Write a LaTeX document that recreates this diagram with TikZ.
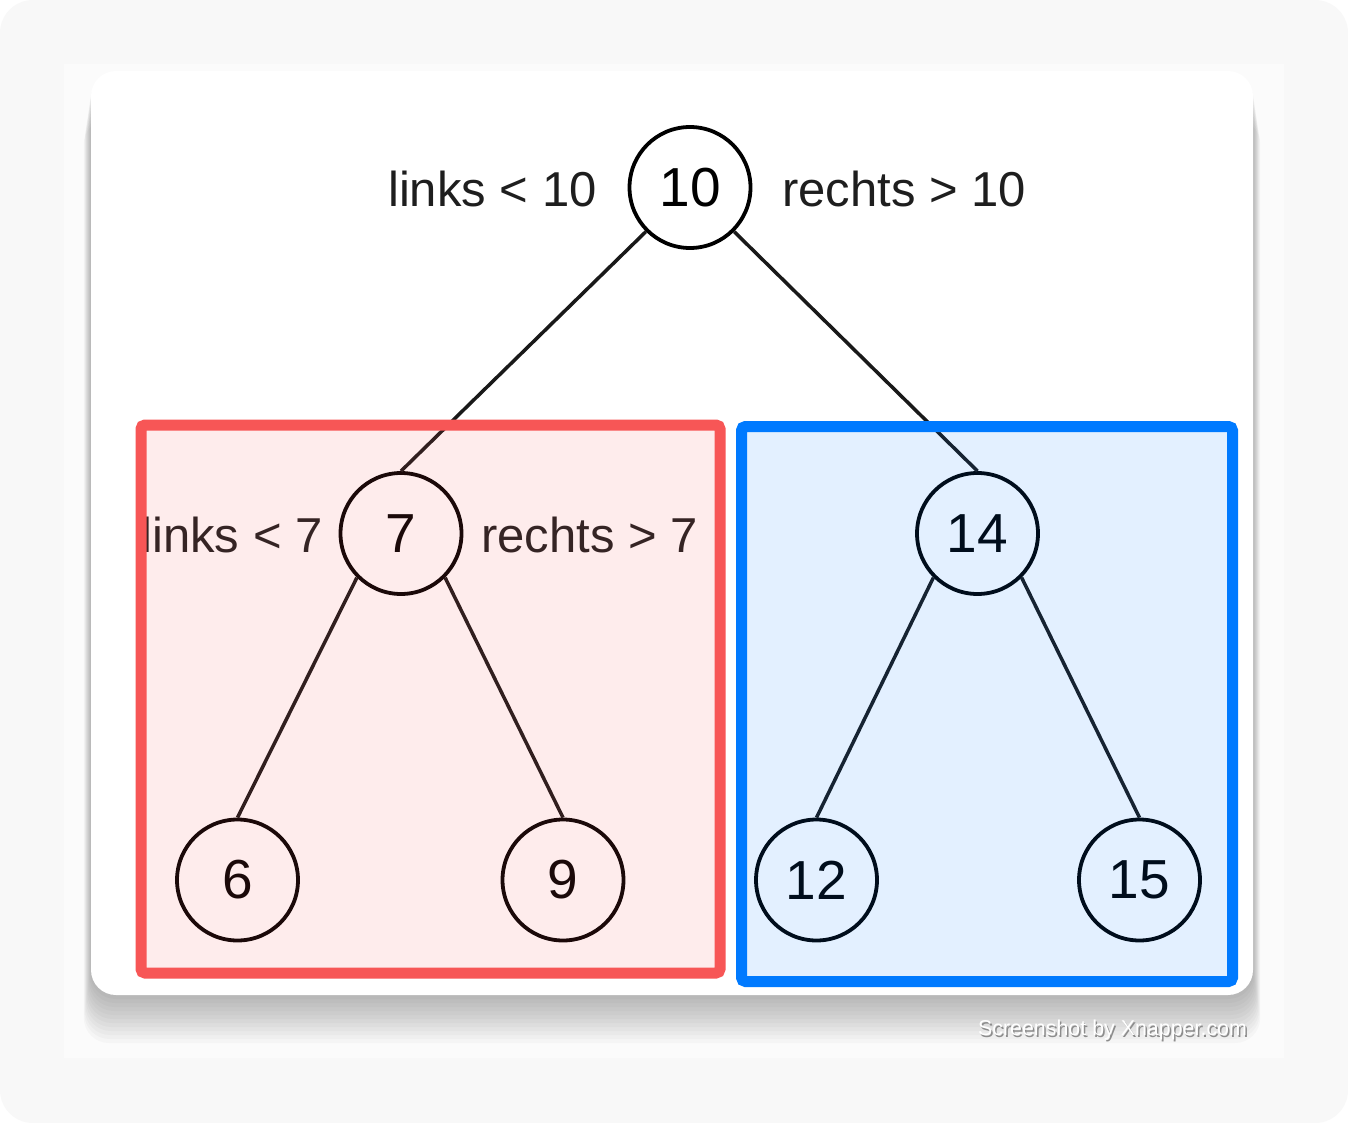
\documentclass[tikz,border=0pt]{standalone}
\usepackage{fontspec}
\setmainfont{Liberation Sans}
\definecolor{boxred}{HTML}{F75656}
\definecolor{boxblue}{HTML}{007AFF}
\definecolor{pagegray}{HTML}{F8F8F8}
\definecolor{framegray}{HTML}{FBFBFB}
\definecolor{inkgray}{HTML}{1E1E1E}

\tikzset{
  vertex/.style={circle, draw=black, line width=1.9pt, minimum size=60.5pt, inner sep=0pt,
    font=\fontsize{27.5}{30}\selectfont},
  rule/.style={font=\fontsize{24.5}{28}\selectfont, text=inkgray, inner sep=0pt},
  edge/.style={line width=1.75pt, draw=black!90},
  subtree/.style={line width=5.5pt, rounded corners=2pt, fill opacity=0.11},
}

\begin{document}
\begin{tikzpicture}[x=0.5pt, y=-0.5pt]
        \useasboundingbox (0,0) rectangle (1348,1123);
        % background and card
        \fill[white] (0,0) rectangle (1348,1123);
        \fill[pagegray, rounded corners=16.5pt] (0,0) rectangle (1348,1123);
        \fill[framegray] (64,64) rectangle (1284,1058);
        \foreach \i in {1,...,12}
            \fill[black, opacity=0.022, rounded corners=12.5pt] (91-0.6*\i,71+4*\i) rectangle (1253+0.6*\i,995+4*\i);
        \fill[white, rounded corners=12.5pt] (91,71) rectangle (1253,995);
        % tree
        \path (690, 187.5) node[vertex](n10) {10} (401, 533.5) node[vertex](n7) {7} (977.5, 533.5) node[vertex](n14) {14}
              (237.5, 880) node[vertex](n6) {6} (563, 880) node[vertex](n9) {9}
              (816.5, 880) node[vertex](n12) {12} (1139.5, 880) node[vertex](n15) {15};
        \draw[edge] (n10.south west) -- (n7.north);
        \draw[edge] (n10.south east) -- (n14.north);
        \draw[edge] (n7.south west) -- (n6.north);
        \draw[edge] (n7.south east) -- (n9.north);
        \draw[edge] (n14.south west) -- (n12.north);
        \draw[edge] (n14.south east) -- (n15.north);
        % rules
        \path (597, 207) node[rule, anchor=base east](l10) {links < 10} (782, 207) node[rule, anchor=base west](r10) {rechts > 10};
        \path (323, 552) node[rule, anchor=base east](l7) {links < 7} (481, 552) node[rule, anchor=base west](r7) {rechts > 7};
        % subtrees
        \draw[subtree, draw=boxred, fill=boxred] (141, 425) rectangle (720, 973);
        \draw[subtree, draw=boxblue, fill=boxblue] (741.5, 426.5) rectangle (1232.5, 981.5);
        % watermark
        \node[font=\fontsize{10.7}{12}\selectfont, text=black!45, anchor=base east] (shotshade) at (1255.5, 1037) {Screenshot by Xnapper.com};
        \node[font=\fontsize{10.7}{12}\selectfont, text=white, anchor=base east] (shot) at (1254, 1035) {Screenshot by Xnapper.com};
    \end{tikzpicture}
\end{document}
